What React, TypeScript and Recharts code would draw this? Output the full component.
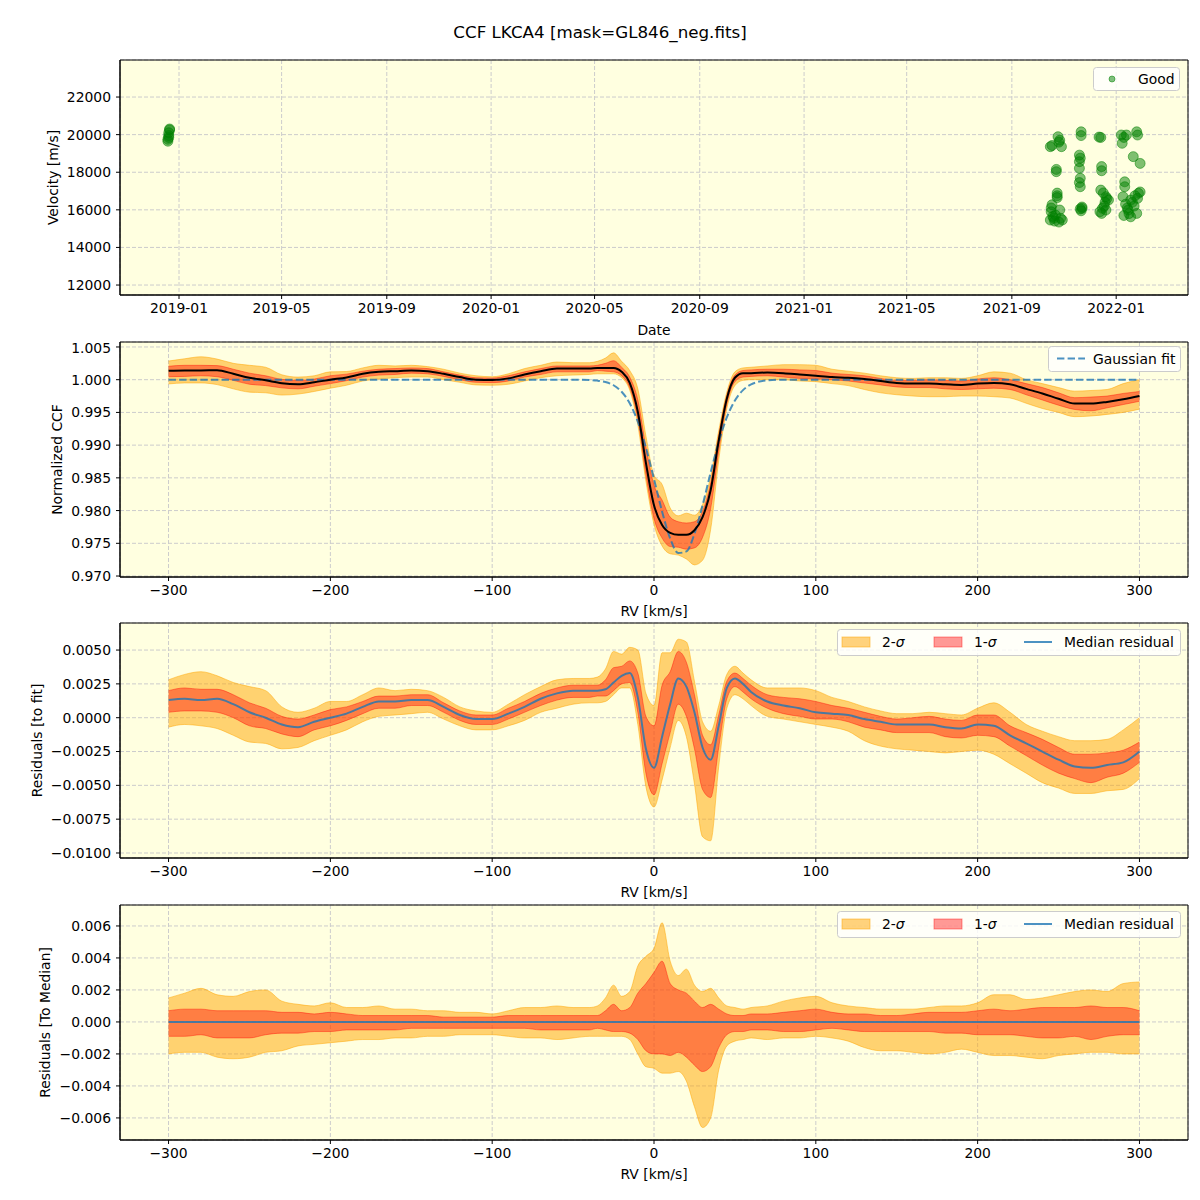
import React from 'react';
import { ComposedChart, Line, Area, Scatter, XAxis, YAxis, CartesianGrid, Legend, ReferenceArea } from 'recharts';

const FONT = '"DejaVu Sans", sans-serif';
const FS = 13.9;
const BG = '#FFFFE0';
const GRID = '#cccccc';
const BLUE = '#1f77b4';

// RV grid, km/s (denser through the line core)
const RV = [
  -300, -290, -280, -270, -260, -250, -240, -230, -220, -210, -200, -190, -180, -170, -160, -150, -140, -130, -120, -110, -100, -90, -80, -70, -60, -50, -40,
  -35, -30, -25, -20, -15, -10, -5, 0, 5, 10, 15, 20, 25, 30, 35, 40, 45, 50, 55, 60,
  70, 80, 90, 100, 110, 120, 130, 140, 150, 160, 170, 180, 190, 200, 210, 220, 230, 240, 250, 260, 270, 280, 290, 300,
];

// median normalized CCF
const CCF_MEDIAN = [
  1.00135, 1.0014, 1.0014, 1.00145, 1.0009, 1.0003, 0.9999, 0.99945, 0.9993, 0.9996, 1.0, 1.00035, 1.0009, 1.0012, 1.0013, 1.0014, 1.0013, 1.0009, 1.0004, 1.0, 0.99995, 1.0002, 1.0008, 1.0013, 1.0017, 1.0017, 1.0017,
  1.0018, 1.0018, 1.0018, 1.0012, 0.9995, 0.9951, 0.9873, 0.9808, 0.9778, 0.9766, 0.9763, 0.9763, 0.977, 0.979, 0.9831, 0.9907, 0.9971, 1.0003, 1.001, 1.001,
  1.0011, 1.001, 1.0008, 1.0006, 1.0004, 1.0003, 1.0001, 0.9998, 0.9995, 0.9994, 0.9994, 0.9993, 0.9992, 0.9994, 0.9995, 0.9993, 0.9986, 0.9979, 0.9971, 0.99635, 0.99635, 0.9966, 0.997, 0.9975,
];

// gaussian fit curve
const GAUSS_FIT = [
  1.0, 1.0, 1.0, 1.0, 1.0, 1.0, 1.0, 1.0, 1.0, 1.0, 1.0, 1.0, 1.0, 1.0, 1.0, 1.0, 1.0, 1.0, 1.0, 1.0, 1.0, 1.0, 1.0, 1.0, 1.0, 1.0, 0.99995,
  0.99986, 0.99964, 0.99915, 0.99816, 0.99639, 0.99357, 0.98962, 0.98481, 0.97984, 0.97573, 0.97351, 0.97376, 0.97644, 0.9808, 0.98582, 0.9905, 0.99423, 0.99682, 0.99841, 0.99928,
  0.99989, 1.0, 1.0, 1.0, 1.0, 1.0, 1.0, 1.0, 1.0, 1.0, 1.0, 1.0, 1.0, 1.0, 1.0, 1.0, 1.0, 1.0, 1.0, 1.0, 1.0, 1.0, 1.0, 1.0,
];

// median residual to the fit
const RESID_FIT_MEDIAN = [
  0.0013, 0.0014, 0.0013, 0.0014, 0.001, 0.0004, 0.0, -0.0005, -0.0007, -0.0003, 0.0, 0.0003, 0.0008, 0.0012, 0.0012, 0.0013, 0.0013, 0.0008, 0.0002, -0.0001, -0.0001, 0.0003, 0.0008, 0.0014, 0.0018, 0.002, 0.002,
  0.002, 0.0021, 0.0026, 0.0031, 0.0033, 0.0015, -0.0023, -0.0037, -0.0014, 0.001, 0.0029, 0.0023, 0.0004, -0.0022, -0.0031, -0.0006, 0.0022, 0.0029, 0.0025, 0.0019,
  0.0012, 0.0009, 0.0007, 0.0004, 0.0003, 0.0002, -0.0001, -0.0003, -0.0005, -0.0005, -0.0005, -0.0007, -0.0008, -0.0005, -0.0006, -0.0013, -0.0019, -0.0025, -0.0031, -0.0036, -0.0037, -0.0035, -0.0033, -0.0025,
];

// percentile envelopes relative to the median
const SIG2_HIGH = [
  0.0015, 0.0018, 0.0021, 0.0017, 0.0016, 0.0019, 0.002, 0.0013, 0.0011, 0.001, 0.0012, 0.0009, 0.0009, 0.001, 0.0008, 0.0008, 0.0007, 0.0007, 0.0006, 0.0006, 0.0005, 0.0007, 0.0009, 0.0009, 0.001, 0.0009, 0.0009,
  0.001, 0.0015, 0.0023, 0.0016, 0.0019, 0.0035, 0.0041, 0.0046, 0.0062, 0.0038, 0.0029, 0.0033, 0.0023, 0.0019, 0.0021, 0.0015, 0.001, 0.0009, 0.0008, 0.0009,
  0.001, 0.0013, 0.0015, 0.0016, 0.0012, 0.001, 0.0009, 0.0008, 0.0008, 0.0008, 0.0009, 0.001, 0.001, 0.0012, 0.0017, 0.0017, 0.0014, 0.0015, 0.0017, 0.0019, 0.002, 0.0019, 0.0024, 0.0025,
];
const SIG1_HIGH = [
  0.0007, 0.0008, 0.0008, 0.0007, 0.0007, 0.0007, 0.0007, 0.0006, 0.0006, 0.0005, 0.0006, 0.0005, 0.0004, 0.0004, 0.0004, 0.0004, 0.0004, 0.0003, 0.0003, 0.0003, 0.0003, 0.0004, 0.0004, 0.0004, 0.0004, 0.0004, 0.0004,
  0.0004, 0.0007, 0.0011, 0.0007, 0.0009, 0.0018, 0.0024, 0.0031, 0.0038, 0.0024, 0.002, 0.0018, 0.0013, 0.0009, 0.0011, 0.0008, 0.0005, 0.0004, 0.0004, 0.0005,
  0.0005, 0.0006, 0.0007, 0.0008, 0.0006, 0.0005, 0.0005, 0.0004, 0.0004, 0.0005, 0.0006, 0.0006, 0.0006, 0.0007, 0.0008, 0.0007, 0.0008, 0.0009, 0.0009, 0.0009, 0.001, 0.0009, 0.0009, 0.0007,
];
const SIG1_LOW = [
  -0.0009, -0.0009, -0.0008, -0.001, -0.001, -0.001, -0.0008, -0.0007, -0.0007, -0.0006, -0.0006, -0.0005, -0.0005, -0.0005, -0.0005, -0.0004, -0.0004, -0.0004, -0.0004, -0.0004, -0.0004, -0.0004, -0.0004, -0.0005, -0.0005, -0.0005, -0.0005,
  -0.0004, -0.0005, -0.0006, -0.0006, -0.0007, -0.0011, -0.0018, -0.002, -0.002, -0.0021, -0.0019, -0.0022, -0.0027, -0.0031, -0.0028, -0.0016, -0.0008, -0.0006, -0.0006, -0.0005,
  -0.0005, -0.0006, -0.0006, -0.0005, -0.0004, -0.0005, -0.0006, -0.0006, -0.0006, -0.0006, -0.0006, -0.0007, -0.0007, -0.0008, -0.0008, -0.0008, -0.0009, -0.001, -0.001, -0.0009, -0.0011, -0.0009, -0.0008, -0.0008,
];
const SIG2_LOW = [
  -0.002, -0.0019, -0.0019, -0.0022, -0.0023, -0.0022, -0.0019, -0.0018, -0.0015, -0.0014, -0.0013, -0.0012, -0.0011, -0.0011, -0.001, -0.001, -0.0009, -0.0009, -0.0008, -0.0008, -0.0008, -0.0009, -0.001, -0.001, -0.0011, -0.001, -0.0009,
  -0.0009, -0.0009, -0.0009, -0.0009, -0.0011, -0.002, -0.0028, -0.0029, -0.0032, -0.0032, -0.0031, -0.0037, -0.0053, -0.0066, -0.006, -0.003, -0.0015, -0.0012, -0.0011, -0.001,
  -0.0011, -0.001, -0.001, -0.0009, -0.001, -0.0012, -0.0016, -0.0018, -0.0018, -0.0019, -0.002, -0.0019, -0.0017, -0.0019, -0.0021, -0.0021, -0.0022, -0.0023, -0.0021, -0.002, -0.0019, -0.0019, -0.002, -0.002,
];
const RESID_MED_MEDIAN = RV.map(() => 0);

// velocity time series
const VEL_DATES = [
  '2018-12-19', '2018-12-19', '2018-12-20', '2018-12-20', '2018-12-20', '2018-12-21', '2018-12-21',
  '2021-10-16', '2021-10-18', '2021-10-25', '2021-10-27', '2021-10-29', '2021-10-23', '2021-10-23', '2021-10-24', '2021-10-24',
  '2021-10-18', '2021-10-17', '2021-10-22', '2021-10-30', '2021-10-16', '2021-10-20', '2021-10-27', '2021-10-26',
  '2021-10-17', '2021-10-19', '2021-10-21', '2021-10-28', '2021-10-24', '2021-10-26',
  '2021-11-21', '2021-11-21', '2021-11-19', '2021-11-19', '2021-11-19', '2021-11-20', '2021-11-20', '2021-11-22', '2021-11-21', '2021-11-20',
  '2021-11-20', '2021-11-19', '2021-11-22',
  '2021-12-12', '2021-12-14', '2021-12-15', '2021-12-15', '2021-12-14', '2021-12-20', '2021-12-23', '2021-12-16', '2021-12-15', '2021-12-20', '2021-12-18',
  '2021-12-17', '2021-12-19', '2021-12-21', '2021-12-13',
  '2022-01-07', '2022-01-13', '2022-01-10', '2022-01-25', '2022-01-26', '2022-01-08', '2022-01-21', '2022-01-29', '2022-01-11', '2022-01-11',
  '2022-01-09', '2022-01-18', '2022-01-27', '2022-01-26', '2022-01-15', '2022-01-18', '2022-01-25', '2022-01-12', '2022-01-10', '2022-01-29',
  '2022-01-14', '2022-01-20', '2022-01-23', '2022-01-16', '2022-01-22',
];
const VEL_VALUES = [
  19650, 19750, 19850, 19950, 20100, 20250, 20300,
  19360, 19420, 19890, 19700, 19360, 18030, 18150, 16890, 16750,
  16270, 16100, 15720, 15460, 15460, 15550, 15990, 15350,
  15900, 15650, 15400, 15550, 16650, 19600,
  20150, 19950, 18910, 18560, 18210, 17680, 17230, 16080, 15950, 16050,
  18750, 17450, 16150,
  19870, 19850, 18300, 18080, 17050, 16700, 16520, 16080, 15810, 15990, 16200,
  16900, 16400, 16600, 15900,
  19980, 19980, 19850, 20150, 19980, 19540, 18830, 18470, 17490, 17230,
  16700, 16520, 16880, 16610, 15990, 15630, 15810, 16300, 15700, 16950,
  16100, 16400, 16750, 15800, 16200,
];

const DATE_TICKS = ['2019-01-01', '2019-05-01', '2019-09-01', '2020-01-01', '2020-05-01', '2020-09-01', '2021-01-01', '2021-05-01', '2021-09-01', '2022-01-01'].map((d) => Date.parse(d));
const DATE_DOMAIN = [Date.parse('2018-10-24'), Date.parse('2022-03-26')];
const VEL_TICKS = [12000, 14000, 16000, 18000, 20000, 22000];
const RV_DOMAIN = [-330, 330];
const RV_TICKS = [-300, -200, -100, 0, 100, 200, 300];
const CCF_TICKS = [0.97, 0.975, 0.98, 0.985, 0.99, 0.995, 1.0, 1.005];
const RESFIT_TICKS = [-0.01, -0.0075, -0.005, -0.0025, 0, 0.0025, 0.005];
const RESMED_TICKS = [-0.006, -0.004, -0.002, 0, 0.002, 0.004, 0.006];

const band = (base: number[], lo: number[], hi: number[], i: number) => [base[i] + lo[i], base[i] + hi[i]];

const velRows = VEL_DATES.map((d, i) => ({ t: Date.parse(d), v: VEL_VALUES[i] }));
const ccfRows = RV.map((rv, i) => ({
  rv,
  med: CCF_MEDIAN[i],
  fit: GAUSS_FIT[i],
  s2: band(CCF_MEDIAN, SIG2_LOW, SIG2_HIGH, i),
  s1: band(CCF_MEDIAN, SIG1_LOW, SIG1_HIGH, i),
}));
const fitRows = RV.map((rv, i) => ({
  rv,
  med: RESID_FIT_MEDIAN[i],
  s2: band(RESID_FIT_MEDIAN, SIG2_LOW, SIG2_HIGH, i),
  s1: band(RESID_FIT_MEDIAN, SIG1_LOW, SIG1_HIGH, i),
}));
const medRows = RV.map((rv, i) => ({
  rv,
  med: RESID_MED_MEDIAN[i],
  s2: band(RESID_MED_MEDIAN, SIG2_LOW, SIG2_HIGH, i),
  s1: band(RESID_MED_MEDIAN, SIG1_LOW, SIG1_HIGH, i),
}));

const minus = (s: string) => s.replace('-', '\u2212');
const tickStyle = { fill: '#000', fontSize: FS, fontFamily: FONT };
const black = { stroke: '#000', strokeWidth: 1 };
const textProps = { fontSize: FS, fontFamily: FONT, fill: '#000' };

const AxisTitle = (props: any) => {
  const { viewBox, text, vertical, at } = props;
  if (!viewBox) return null;
  if (vertical) {
    const cy = viewBox.y + viewBox.height / 2;
    return (
      <text x={at} y={cy} transform={`rotate(-90 ${at} ${cy})`} textAnchor="middle" dominantBaseline="central" {...textProps}>
        {text}
      </text>
    );
  }
  return (
    <text x={viewBox.x + viewBox.width / 2} y={viewBox.y + at} textAnchor="middle" dominantBaseline="central" {...textProps}>
      {text}
    </text>
  );
};

const boxStyle = { fill: '#fff', fillOpacity: 0.8, stroke: '#cccccc', strokeWidth: 1 };

const GoodLegend = () => (
  <svg width={88} height={25} style={{ display: 'block' }}>
    <rect x={0.5} y={0.5} width={86} height={23} rx={3} {...boxStyle} />
    <circle cx={19} cy={12} r={3} fill="#008000" fillOpacity={0.5} stroke="#008000" strokeOpacity={0.5} />
    <text x={45} y={17} {...textProps}>Good</text>
  </svg>
);

const FitLegend = () => (
  <svg width={134} height={27} style={{ display: 'block' }}>
    <rect x={0.5} y={0.5} width={132} height={25} rx={3} {...boxStyle} />
    <line x1={9} x2={37} y1={12.5} y2={12.5} stroke={BLUE} strokeOpacity={0.8} strokeWidth={2} strokeDasharray="7.4 3.2" />
    <text x={45} y={17.5} {...textProps}>Gaussian fit</text>
  </svg>
);

const SigmaLegend = () => (
  <svg width={345} height={28} style={{ display: 'block' }}>
    <rect x={0.5} y={0.5} width={343} height={26} rx={3} {...boxStyle} />
    <rect x={5} y={8} width={28} height={10} fill="#FFA500" fillOpacity={0.5} stroke="#FFA500" strokeOpacity={0.5} />
    <text x={45} y={18} {...textProps}>2-<tspan fontStyle="italic">σ</tspan></text>
    <rect x={97} y={8} width={28} height={10} fill="#FF0000" fillOpacity={0.4} stroke="#FF0000" strokeOpacity={0.4} />
    <text x={137} y={18} {...textProps}>1-<tspan fontStyle="italic">σ</tspan></text>
    <line x1={187} x2={215} y1={13} y2={13} stroke={BLUE} strokeOpacity={0.8} strokeWidth={2} />
    <text x={227} y={18} {...textProps}>Median residual</text>
  </svg>
);

const Dot = (p: any) => (
  <circle cx={p.cx} cy={p.cy} r={5} fill="#008000" fillOpacity={0.5} stroke="#008000" strokeOpacity={0.5} strokeWidth={1} />
);

const rvAxis = () => (
  <XAxis
    dataKey="rv"
    type="number"
    domain={RV_DOMAIN}
    ticks={RV_TICKS}
    allowDataOverflow
    height={45}
    tick={tickStyle}
    tickLine={black}
    axisLine={black}
    tickSize={4}
    tickMargin={4}
    tickFormatter={(v: number) => minus(String(v))}
    label={<AxisTitle text="RV [km/s]" at={34} />}
  />
);

// frame around the plot area (matplotlib spines)
const frame = (xDom: number[], yDom: number[]) => (
  <ReferenceArea x1={xDom[0]} x2={xDom[1]} y1={yDom[0]} y2={yDom[1]} fill="none" fillOpacity={0} stroke="#000" strokeWidth={1} strokeOpacity={1} ifOverflow="visible" />
);

const bands = () => [
  <Area key="s2" type="monotone" dataKey="s2" fill="#FFA500" fillOpacity={0.5} stroke="#FFA500" strokeOpacity={0.5} strokeWidth={1} dot={false} activeDot={false} isAnimationActive={false} />,
  <Area key="s1" type="monotone" dataKey="s1" fill="#FF0000" fillOpacity={0.4} stroke="#FF0000" strokeOpacity={0.4} strokeWidth={1} dot={false} activeDot={false} isAnimationActive={false} />,
];

const margin = (top: number) => ({ top, right: 12, bottom: 0, left: 0 });
const W = 1200;

const VelocityPanel = () => {
  const yDom = [11470, 23970];
  return (
    <ComposedChart width={W} height={340} margin={margin(60)}>
      <CartesianGrid fill={BG} fillOpacity={1} stroke={GRID} strokeDasharray="4 2" />
      <XAxis
        dataKey="t"
        type="number"
        domain={DATE_DOMAIN}
        ticks={DATE_TICKS}
        allowDataOverflow
        height={45}
        tick={tickStyle}
        tickLine={black}
        axisLine={black}
        tickSize={4}
        tickMargin={4}
        tickFormatter={(v: number) => new Date(v).toISOString().slice(0, 7)}
        label={<AxisTitle text="Date" at={35} />}
      />
      <YAxis
        type="number"
        domain={yDom}
        ticks={VEL_TICKS}
        allowDataOverflow
        width={120}
        tick={tickStyle}
        tickLine={black}
        axisLine={black}
        tickSize={4}
        tickMargin={5}
        label={<AxisTitle text="Velocity [m/s]" vertical at={53} />}
      />
      <Scatter data={velRows} dataKey="v" shape={<Dot />} isAnimationActive={false} />
      {frame(DATE_DOMAIN, yDom)}
      <Legend verticalAlign="middle" align="center" content={() => <GoodLegend />} wrapperStyle={{ top: 67, right: 19, left: 'auto', width: 'auto' }} />
    </ComposedChart>
  );
};

const CcfPanel = () => {
  const yDom = [0.96985, 1.00576];
  return (
    <ComposedChart width={W} height={282} margin={margin(2)} data={ccfRows}>
      <CartesianGrid fill={BG} fillOpacity={1} stroke={GRID} strokeDasharray="4 2" />
      {rvAxis()}
      <YAxis
        type="number"
        domain={yDom}
        ticks={CCF_TICKS}
        allowDataOverflow
        width={120}
        tick={tickStyle}
        tickLine={black}
        axisLine={black}
        tickSize={4}
        tickMargin={5}
        tickFormatter={(v: number) => v.toFixed(3)}
        label={<AxisTitle text="Normalized CCF" vertical at={57} />}
      />
      {bands()}
      <Line type="monotone" dataKey="fit" stroke={BLUE} strokeOpacity={0.8} strokeWidth={2} strokeDasharray="7.4 3.2" dot={false} activeDot={false} isAnimationActive={false} />
      <Line type="monotone" dataKey="med" stroke="#000" strokeWidth={2} dot={false} activeDot={false} isAnimationActive={false} />
      {frame(RV_DOMAIN, yDom)}
      <Legend verticalAlign="middle" align="center" content={() => <FitLegend />} wrapperStyle={{ top: 6, right: 18, left: 'auto', width: 'auto' }} />
    </ComposedChart>
  );
};

const ResidPanel = (props: { rows: any[]; yDom: number[]; ticks: number[]; digits: number; title: string; titleX: number; top: number; legendTop: number }) => {
  const { rows, yDom, ticks, digits, title, titleX, top, legendTop } = props;
  return (
    <ComposedChart width={W} height={top + 235 + 45} margin={margin(top)} data={rows}>
      <CartesianGrid fill={BG} fillOpacity={1} stroke={GRID} strokeDasharray="4 2" />
      {rvAxis()}
      <YAxis
        type="number"
        domain={yDom}
        ticks={ticks}
        allowDataOverflow
        width={120}
        tick={tickStyle}
        tickLine={black}
        axisLine={black}
        tickSize={4}
        tickMargin={5}
        tickFormatter={(v: number) => minus(v.toFixed(digits))}
        label={<AxisTitle text={title} vertical at={titleX} />}
      />
      {bands()}
      <Line type="monotone" dataKey="med" stroke={BLUE} strokeOpacity={0.8} strokeWidth={2} dot={false} activeDot={false} isAnimationActive={false} />
      {frame(RV_DOMAIN, yDom)}
      <Legend verticalAlign="middle" align="center" content={() => <SigmaLegend />} wrapperStyle={{ top: legendTop, right: 18, left: 'auto', width: 'auto' }} />
    </ComposedChart>
  );
};

export default function App() {
  return (
    <div style={{ position: 'absolute', left: 0, top: 0, width: 1200, height: 1200, background: '#fff', fontFamily: FONT }}>
      <div style={{ position: 'absolute', top: 22, left: 0, width: 1200, textAlign: 'center', fontSize: 16.7, lineHeight: '20px', color: '#000' }}>
        CCF LKCA4 [mask=GL846_neg.fits]
      </div>
      <div style={{ position: 'absolute', top: 0, left: 0 }}>
        <VelocityPanel />
      </div>
      <div style={{ position: 'absolute', top: 340, left: 0 }}>
        <CcfPanel />
      </div>
      <div style={{ position: 'absolute', top: 622, left: 0 }}>
        <ResidPanel rows={fitRows} yDom={[-0.01037, 0.007]} ticks={RESFIT_TICKS} digits={4} title="Residuals [to fit]" titleX={37} top={1} legendTop={7} />
      </div>
      <div style={{ position: 'absolute', top: 903, left: 0 }}>
        <ResidPanel rows={medRows} yDom={[-0.00738, 0.00731]} ticks={RESMED_TICKS} digits={3} title="Residuals [To Median]" titleX={45} top={2} legendTop={8} />
      </div>
    </div>
  );
}
